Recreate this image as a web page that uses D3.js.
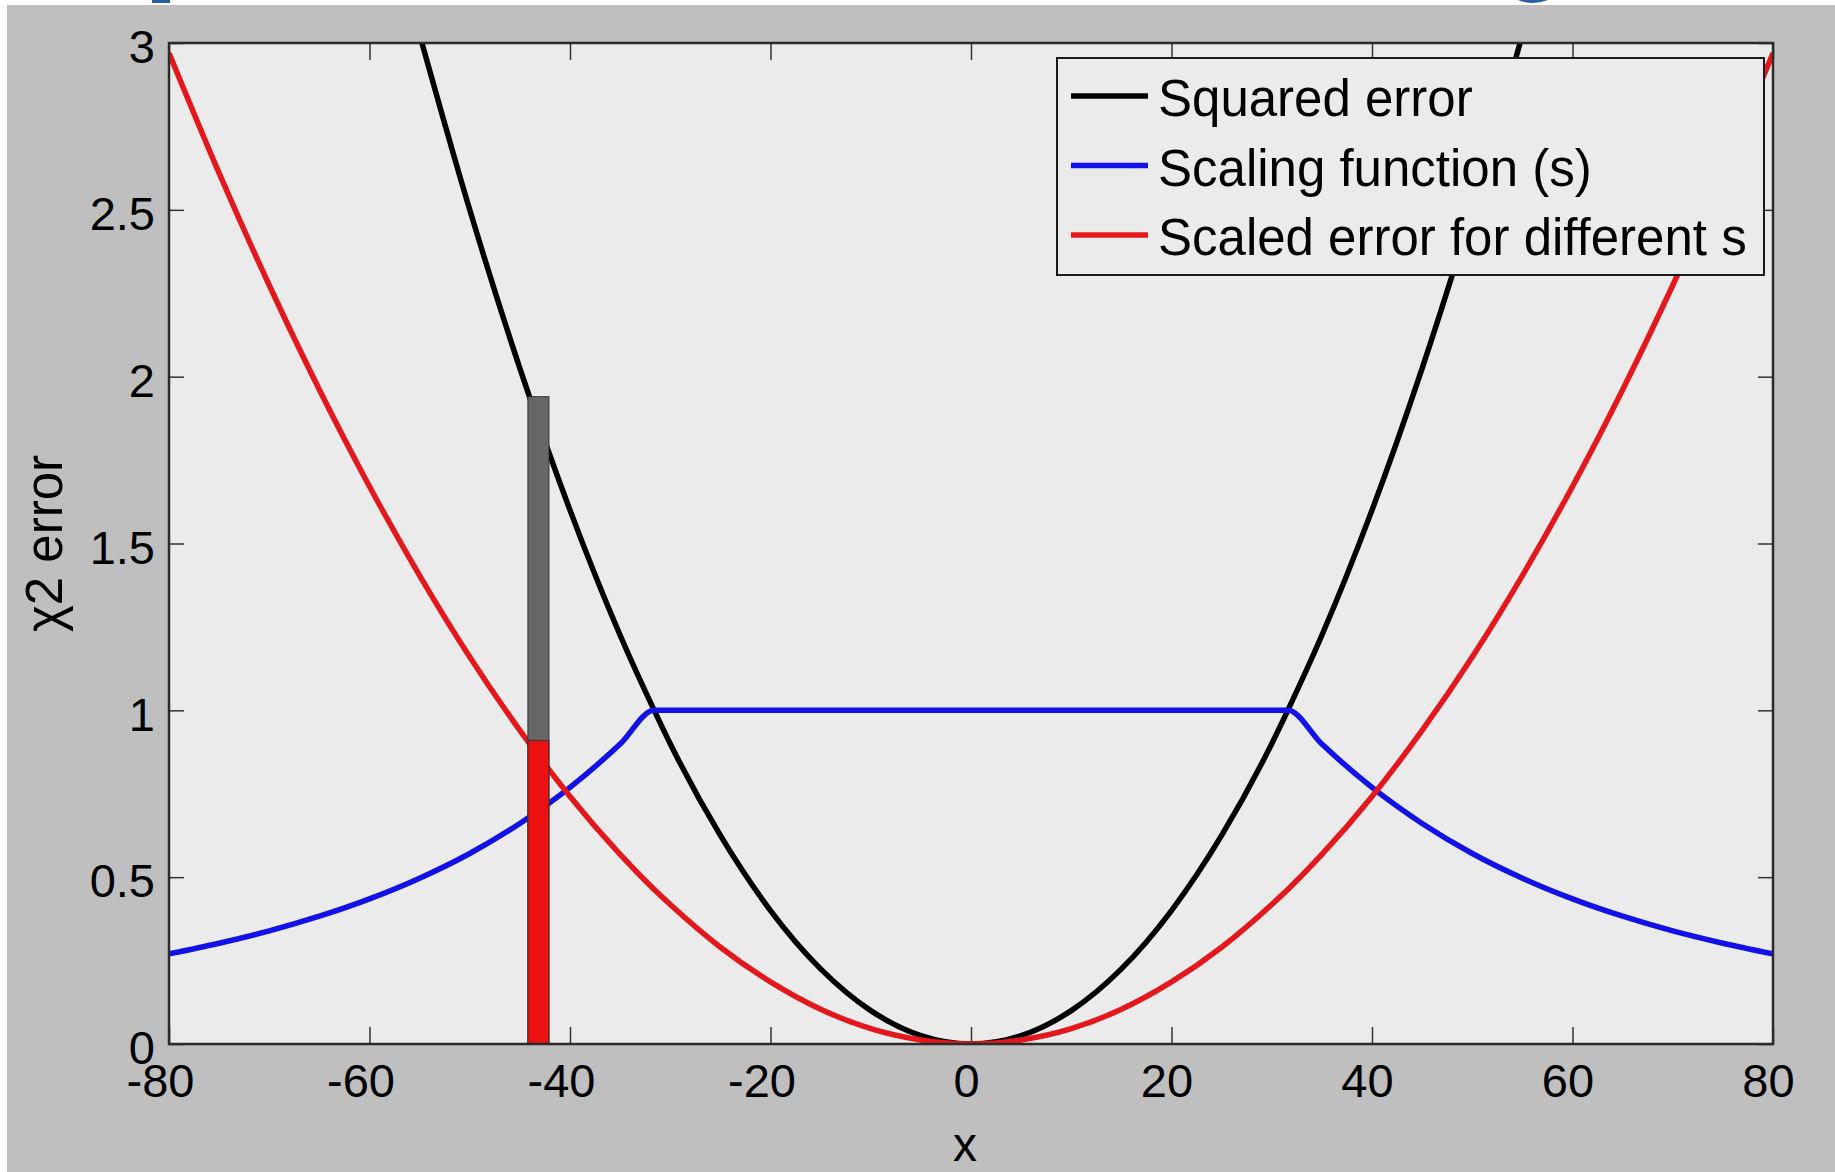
<!DOCTYPE html>
<html>
<head>
<meta charset="utf-8">
<script src="https://cdn.jsdelivr.net/npm/d3@7"></script>
<style>
  html, body { margin: 0; padding: 0; background: #fff; }
  text { font-family: "Liberation Sans", Arial, sans-serif; fill: #000; }
</style>
</head>
<body>
<svg id="drawing_region"></svg>
<script>
// values
var xValues      = [-80, -75, -70, -65, -60, -55, -50, -45, -40, -35, -31.6, -30, -25, -20, -15, -10, -5, 0,
                    5, 10, 15, 20, 25, 30, 31.6, 35, 40, 45, 50, 55, 60, 65, 70, 75, 80];
var squaredError = [null, null, null, null, null, 3.025, 2.5, 2.025, 1.6, 1.225, 1.0, 0.9, 0.625, 0.4, 0.225, 0.1, 0.025, 0,
                    0.025, 0.1, 0.225, 0.4, 0.625, 0.9, 1.0, 1.225, 1.6, 2.025, 2.5, 3.025, null, null, null, null, null];
var scalingFn    = [0.270, 0.302, 0.339, 0.383, 0.435, 0.497, 0.571, 0.661, 0.769, 0.899, 1, 1, 1, 1, 1, 1, 1, 1,
                    1, 1, 1, 1, 1, 1, 1, 0.899, 0.769, 0.661, 0.571, 0.497, 0.435, 0.383, 0.339, 0.302, 0.270];
var scaledError  = [2.970, 2.610, 2.274, 1.961, 1.671, 1.404, 1.160, 0.940, 0.742, 0.568, 0.463, 0.418, 0.290, 0.186, 0.104, 0.046, 0.012, 0,
                    0.012, 0.046, 0.104, 0.186, 0.290, 0.418, 0.463, 0.568, 0.742, 0.940, 1.160, 1.404, 1.671, 1.961, 2.274, 2.610, 2.970];

var seriesNames  = ['Squared error', 'Scaling function (s)', 'Scaled error for different s'];
var seriesColors = ['#000000', '#1212e8', '#e4171c'];
var seriesCurves = [d3.curveMonotoneX, d3.curveMonotoneX, d3.curveMonotoneX];

// the highlighted bar at x ~ -43
var barX      = [-44.2, -42.1];
var barTotal  = 1.94;
var barScaled = 0.91;

var xTicks = [-80, -60, -40, -20, 0, 20, 40, 60, 80];
var yTicks = [0, 0.5, 1, 1.5, 2, 2.5, 3];

var width = 1835;
var height = 1172;
var margin = {left: 169, right: 62, top: 43, bottom: 128};
var plotW = width - margin.left - margin.right;
var plotH = height - margin.top - margin.bottom;

var svg = d3.select('#drawing_region')
    .attr('width', width)
    .attr('height', height);

// window background
svg.append('rect')
    .attr('x', 0).attr('y', 0)
    .attr('width', width).attr('height', height)
    .attr('fill', '#ffffff');
svg.append('rect')
    .attr('x', 7).attr('y', 5)
    .attr('width', width - 7).attr('height', height - 5)
    .attr('fill', '#bfbfbf');

// cut-off slide title descenders
svg.append('rect')
    .attr('x', 152).attr('y', 0)
    .attr('width', 18).attr('height', 3)
    .attr('fill', '#2a5fa6');
svg.append('path')
    .attr('d', 'M1518,0 Q1533,6 1548,0 Z')
    .attr('fill', '#2a5fa6');

var g = svg.append('g')
    .attr('transform', `translate(${margin.left}, ${margin.top})`);

var x = d3.scaleLinear().domain([-80, 80]).range([0, plotW]);
var y = d3.scaleLinear().domain([0, 3]).range([plotH, 0]);

g.append('rect')
    .attr('width', plotW)
    .attr('height', plotH)
    .attr('fill', '#ebebeb');

g.append('clipPath')
    .attr('id', 'plotclip')
    .append('rect')
    .attr('width', plotW)
    .attr('height', plotH);

// axes: ticks inside on all four sides
var axisB = g.append('g')
    .attr('transform', `translate(0, ${plotH})`)
    .call(d3.axisBottom(x).tickValues(xTicks).tickSize(-17).tickPadding(20).tickFormat(d => String(d)));
var axisT = g.append('g')
    .call(d3.axisTop(x).tickValues(xTicks).tickSize(-17).tickFormat(''));
var axisL = g.append('g')
    .call(d3.axisLeft(y).tickValues(yTicks).tickSize(-15).tickPadding(14).tickFormat(d => String(d)));
var axisR = g.append('g')
    .attr('transform', `translate(${plotW}, 0)`)
    .call(d3.axisRight(y).tickValues(yTicks).tickSize(-15).tickFormat(''));

[axisB, axisT, axisL, axisR].forEach(function(a) {
    a.select('.domain').remove();
    a.selectAll('.tick line').attr('stroke', '#333').attr('stroke-width', 1.5);
    a.selectAll('.tick text')
        .style('font-size', '47px')
        .style('font-family', '"Liberation Sans", Arial, sans-serif')
        .attr('fill', '#000');
});
axisL.selectAll('.tick text').attr('dy', '0.42em');
axisB.selectAll('.tick text').attr('dx', d => d < 0 ? -9 : -5);

// curves
var seriesValues = [squaredError, scalingFn, scaledError];

var curves = g.append('g').attr('clip-path', 'url(#plotclip)');

curves.selectAll('path.series')
    .data(seriesValues)
    .enter()
    .append('path')
    .attr('class', 'series')
    .attr('d', function(vals, i) {
        var line = d3.line()
            .defined(d => d[1] != null)
            .x(d => x(d[0]))
            .y(d => y(d[1]))
            .curve(seriesCurves[i]);
        return line(xValues.map((xv, j) => [xv, vals[j]]));
    })
    .attr('fill', 'none')
    .attr('stroke', (d, i) => seriesColors[i])
    .attr('stroke-width', 5.5)
    .attr('stroke-linejoin', 'round');

// bar: full squared error (gray) and scaled part (red)
g.append('rect')
    .attr('x', x(barX[0]))
    .attr('y', y(barTotal))
    .attr('width', x(barX[1]) - x(barX[0]))
    .attr('height', y(0) - y(barTotal))
    .attr('fill', '#676767')
    .attr('stroke', '#333')
    .attr('stroke-width', 1);
g.append('rect')
    .attr('x', x(barX[0]))
    .attr('y', y(barScaled))
    .attr('width', x(barX[1]) - x(barX[0]))
    .attr('height', y(0) - y(barScaled))
    .attr('fill', '#ec1111')
    .attr('stroke', '#333')
    .attr('stroke-width', 1);

// box
g.append('rect')
    .attr('width', plotW)
    .attr('height', plotH)
    .attr('fill', 'none')
    .attr('stroke', '#2b2b2b')
    .attr('stroke-width', 2.5);

// axis labels
svg.append('text')
    .attr('x', margin.left + plotW / 2 - 6)
    .attr('y', 1161)
    .attr('text-anchor', 'middle')
    .style('font-size', '48px')
    .text('x');

svg.append('text')
    .attr('transform', `translate(62, ${margin.top + plotH / 2}) rotate(-90)`)
    .attr('text-anchor', 'middle')
    .style('font-size', '51px')
    .text('χ2 error');

// legend
var legend = svg.append('g')
    .attr('transform', 'translate(1057, 58)');

legend.append('rect')
    .attr('width', 707)
    .attr('height', 217)
    .attr('fill', '#ebebeb')
    .attr('stroke', '#1a1a1a')
    .attr('stroke-width', 2);

var items = legend.selectAll('g.item')
    .data(seriesNames)
    .enter()
    .append('g')
    .attr('class', 'item')
    .attr('transform', (d, i) => `translate(0, ${38 + i * 69.5})`);

items.append('line')
    .attr('x1', 14).attr('x2', 91)
    .attr('y1', 0).attr('y2', 0)
    .attr('stroke', (d, i) => seriesColors[i])
    .attr('stroke-width', 5.5);

items.append('text')
    .attr('x', 101)
    .attr('y', 20)
    .style('font-size', '51px')
    .text(d => d);
</script>
</body>
</html>
